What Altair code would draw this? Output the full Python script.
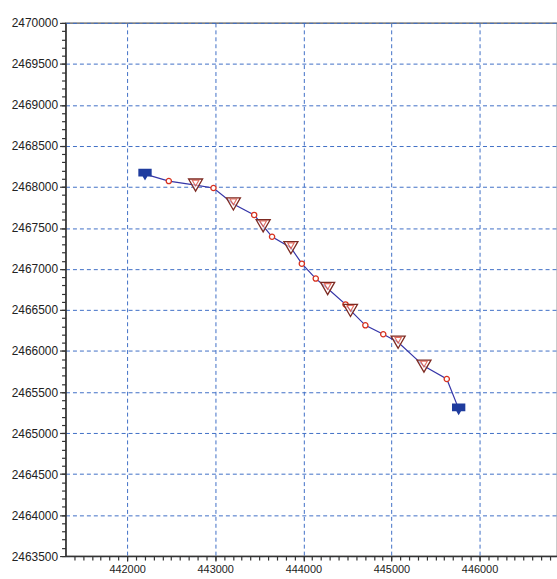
import altair as alt
import pandas as pd

# Track coordinates (easting / northing) and the kind of marker at each vertex
east = [442203, 442473, 442777, 442980, 443206, 443442, 443544, 443645, 443859, 443983,
        444141, 444276, 444479, 444535, 444704, 444907, 445076, 445369, 445628, 445763]
north = [2468157, 2468072, 2468023, 2467987, 2467793, 2467659, 2467526, 2467393, 2467259, 2467065,
         2466883, 2466762, 2466568, 2466495, 2466313, 2466204, 2466107, 2465816, 2465659, 2465295]
kind = ["end", "circle", "tri", "circle", "tri", "circle", "tri", "circle", "tri", "circle",
        "circle", "tri", "circle", "tri", "circle", "circle", "tri", "tri", "circle", "end"]

x_major = [442000, 443000, 444000, 445000, 446000]
y_major = list(range(2463500, 2470001, 500))
x_minor = list(range(441400, 446900, 100))
y_minor = list(range(2463500, 2470001, 100))

df = pd.DataFrame({"east": east, "north": north, "kind": kind, "order": range(len(east))})

FONT = "Liberation Sans"
xs = alt.Scale(domain=[441301, 446879], nice=False, zero=False)
ys = alt.Scale(domain=[2463500, 2470000], nice=False, zero=False)

grid_kw = dict(grid=True, gridColor="#3f6fc6", gridDash=[4, 3], gridWidth=1,
               domainColor="#333333", domainWidth=1.5, tickColor="#333333", tickWidth=1.2,
               labelFont=FONT, labelColor="#222222", title=None, format="d")

base = alt.Chart(df)

line = base.mark_line(color="#3535a8", strokeWidth=1.2).encode(
    x=alt.X("east:Q", scale=xs,
            axis=alt.Axis(values=x_major, orient="bottom", tickSize=5, labelPadding=3,
                          labelFontSize=11, **grid_kw)),
    y=alt.Y("north:Q", scale=ys,
            axis=alt.Axis(values=y_major, orient="left", tickSize=6, labelPadding=2,
                          labelFontSize=12, **grid_kw)),
    order="order:Q",
)

# Minor ticks every 100 m on both axes
minor = base.mark_point(opacity=0).encode(
    x=alt.X("east:Q", scale=xs,
            axis=alt.Axis(values=x_minor, orient="bottom", labels=False, grid=False,
                          domain=False, tickSize=4, tickColor="#333333", tickWidth=1.2, title=None)),
    y=alt.Y("north:Q", scale=ys,
            axis=alt.Axis(values=y_minor, orient="left", labels=False, grid=False,
                          domain=False, tickSize=4, tickColor="#333333", tickWidth=1.2, title=None)),
)

enc = dict(x=alt.X("east:Q", scale=xs, axis=None), y=alt.Y("north:Q", scale=ys, axis=None))

circles = base.transform_filter(alt.datum.kind == "circle").mark_point(
    shape="circle", size=28, filled=False, fill="white", fillOpacity=1,
    stroke="#d8321f", strokeWidth=1.3).encode(**enc)

tri_outer = base.transform_filter(alt.datum.kind == "tri").mark_point(
    shape="triangle-down", size=200, filled=False, stroke="#7d2a22", strokeWidth=1.3,
    fill="white", fillOpacity=0.6).encode(**enc)

tri_inner = base.transform_filter(alt.datum.kind == "tri").mark_point(
    shape="triangle-down", size=45, filled=False, stroke="#d8321f", strokeWidth=1.1,
    yOffset=-2).encode(**enc)

ends = base.transform_filter(alt.datum.kind == "end").mark_point(
    shape="M-1,-0.8L1,-0.8L1,0.35L0.35,0.35L0,0.95L-0.35,0.35L-1,0.35Z",
    size=180, filled=True, color="#1f3c9e", opacity=1).encode(**enc)

chart = alt.layer(line, minor, circles, tri_outer, tri_inner, ends).resolve_axis(
    x="independent", y="independent"
).properties(
    width=495, height=537,
    autosize=alt.AutoSizeParams(type="none"),
    padding={"left": 66, "top": 21, "right": 0, "bottom": 21},
    background="white",
).configure_view(stroke="#555555", strokeWidth=1.2)

chart.save("out.html", embed_options={"renderer": "svg", "actions": False})
